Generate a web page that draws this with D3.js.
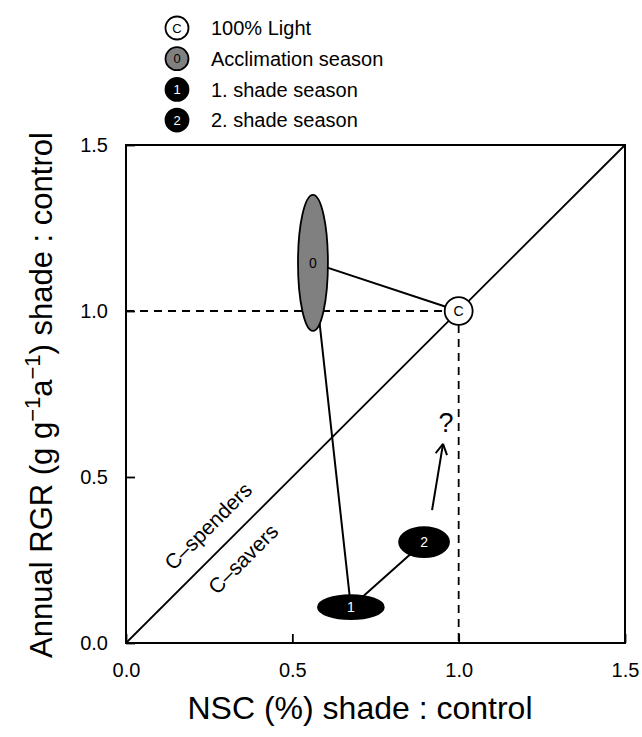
<!DOCTYPE html>
<html>
<head>
<meta charset="utf-8">
<script src="https://cdn.jsdelivr.net/npm/d3@7"></script>
<style>
  body { margin: 0; background: #fff; }
  text { font-family: Helvetica, "Liberation Sans", Arial, sans-serif; }
</style>
</head>
<body>
<div id="plot"></div>
<script>
// data
const seasons = ['C', '0', '1', '2']
const nsc = [1.0, 0.562, 0.676, 0.896]      // x, NSC shade : control
const rgr = [1.0, 1.145, 0.108, 0.304]      // y, RGR shade : control
const nscSpread = [0.042, 0.045, 0.099, 0.075]
const rgrSpread = [0.042, 0.205, 0.036, 0.045]
const fills = ['white', '#808080', 'black', 'black']
const labelColors = ['black', 'black', 'white', 'white']
const legendLabels = ['100% Light', 'Acclimation season', '1. shade season', '2. shade season']
const ticks = [0, 0.5, 1.0, 1.5]
const arrowFrom = [0.92, 0.40]
const arrowTo = [0.953, 0.60]

const width = 642, height = 737
const margin = {left: 126, right: 17, top: 145, bottom: 94}

const svg = d3.select('#plot').append('svg')
  .attr('width', width).attr('height', height)

const x = d3.scaleLinear().domain([0, 1.5]).range([margin.left, width - margin.right])
const y = d3.scaleLinear().domain([0, 1.5]).range([height - margin.bottom, margin.top])

const g = svg.append('g')

// 1:1 line
g.append('line')
  .attr('x1', x(0)).attr('y1', y(0)).attr('x2', x(1.5)).attr('y2', y(1.5))
  .attr('stroke', 'black').attr('stroke-width', 1.8)

// dashed reference lines through control
g.append('line')
  .attr('x1', x(0)).attr('y1', y(1)).attr('x2', x(nsc[0])).attr('y2', y(1))
  .attr('stroke', 'black').attr('stroke-width', 1.8).attr('stroke-dasharray', '8,6')
g.append('line')
  .attr('x1', x(1)).attr('y1', y(rgr[0])).attr('x2', x(1)).attr('y2', y(0))
  .attr('stroke', 'black').attr('stroke-width', 1.8).attr('stroke-dasharray', '8,6')

// connections C-0, 0-1, 1-2
const path = [[nsc[0], rgr[0]], [nsc[1], rgr[1]], [nsc[2], rgr[2]], [nsc[3], rgr[3]]]
g.append('path')
  .attr('d', d3.line().x(d => x(d[0])).y(d => y(d[1]))(path))
  .attr('fill', 'none').attr('stroke', 'black').attr('stroke-width', 2)

// arrow towards the unknown
const ax0 = x(arrowFrom[0]), ay0 = y(arrowFrom[1]), ax1 = x(arrowTo[0]), ay1 = y(arrowTo[1])
g.append('line')
  .attr('x1', ax0).attr('y1', ay0).attr('x2', ax1).attr('y2', ay1)
  .attr('stroke', 'black').attr('stroke-width', 2)
const ang = Math.atan2(ay1 - ay0, ax1 - ax0)
const head = 12
;[-0.5, 0.5].forEach(da => {
  g.append('line')
    .attr('x1', ax1).attr('y1', ay1)
    .attr('x2', ax1 - head * Math.cos(ang + da)).attr('y2', ay1 - head * Math.sin(ang + da))
    .attr('stroke', 'black').attr('stroke-width', 2)
})
g.append('text')
  .attr('x', x(arrowTo[0]) + 3).attr('y', y(arrowTo[1]) - 12)
  .attr('text-anchor', 'middle').attr('font-size', 27).text('?')

// ellipses
const pts = g.selectAll('g.pt').data(seasons).enter().append('g').attr('class', 'pt')
pts.append('ellipse')
  .attr('cx', (d, i) => x(nsc[i])).attr('cy', (d, i) => y(rgr[i]))
  .attr('rx', (d, i) => x(nscSpread[i]) - x(0))
  .attr('ry', (d, i) => y(0) - y(rgrSpread[i]))
  .attr('fill', (d, i) => fills[i]).attr('stroke', 'black').attr('stroke-width', 1.8)
pts.append('text')
  .attr('x', (d, i) => x(nsc[i])).attr('y', (d, i) => y(rgr[i]))
  .attr('dy', '0.36em').attr('text-anchor', 'middle').attr('font-size', 14)
  .attr('fill', (d, i) => labelColors[i]).text(d => d)

// region labels
g.append('text')
  .attr('transform', 'translate(' + x(0.247) + ',' + y(0.352) + ') rotate(-45)')
  .attr('text-anchor', 'middle').attr('dy', '0.35em').attr('font-size', 21).text('C\u2013spenders')
g.append('text')
  .attr('transform', 'translate(' + x(0.352) + ',' + y(0.253) + ') rotate(-45)')
  .attr('text-anchor', 'middle').attr('dy', '0.35em').attr('font-size', 21).text('C\u2013savers')

// axes, inward ticks
const xAxis = g.append('g').attr('transform', 'translate(0,' + y(0) + ')')
  .call(d3.axisBottom(x).tickValues(ticks).tickFormat(d3.format('.1f')).tickSizeInner(-9).tickSizeOuter(0).tickPadding(20))
const yAxis = g.append('g').attr('transform', 'translate(' + x(0) + ',0)')
  .call(d3.axisLeft(y).tickValues(ticks).tickFormat(d3.format('.1f')).tickSizeInner(-9).tickSizeOuter(0).tickPadding(18))
;[xAxis, yAxis].forEach(a => {
  a.select('.domain').remove()
  a.selectAll('line').attr('stroke-width', 1.8)
  a.selectAll('text').attr('font-size', 20).attr('fill', 'black')
    .style('font-family', 'Helvetica, "Liberation Sans", Arial, sans-serif')
})
xAxis.selectAll('.tick text').attr('dy', '0.71em')

// frame
g.append('rect')
  .attr('x', x(0)).attr('y', y(1.5))
  .attr('width', x(1.5) - x(0)).attr('height', y(0) - y(1.5))
  .attr('fill', 'none').attr('stroke', 'black').attr('stroke-width', 2)

// axis titles
svg.append('text')
  .attr('x', 360).attr('y', 719)
  .attr('text-anchor', 'middle').attr('font-size', 32).text('NSC (%) shade : control')
const yt = svg.append('text')
  .attr('transform', 'translate(52,395) rotate(-90)')
  .attr('text-anchor', 'middle').attr('font-size', 31)
yt.append('tspan').text('Annual RGR (g g')
yt.append('tspan').attr('dy', -12).attr('font-size', 22).text('\u22121')
yt.append('tspan').attr('dy', 12).text('a')
yt.append('tspan').attr('dy', -12).attr('font-size', 22).text('\u22121')
yt.append('tspan').attr('dy', 12).text(') shade : control')

// legend
const leg = svg.append('g').attr('transform', 'translate(177,28)')
const items = leg.selectAll('g').data(legendLabels).enter().append('g')
  .attr('transform', (d, i) => 'translate(0,' + (i * 30.7) + ')')
items.append('circle').attr('r', 11.5)
  .attr('fill', (d, i) => fills[i]).attr('stroke', 'black').attr('stroke-width', 1.8)
items.append('text').attr('text-anchor', 'middle').attr('dy', '0.36em').attr('font-size', 13)
  .attr('fill', (d, i) => labelColors[i]).text((d, i) => seasons[i])
items.append('text').attr('x', 34).attr('dy', '0.36em').attr('font-size', 20).text(d => d)
</script>
</body>
</html>
